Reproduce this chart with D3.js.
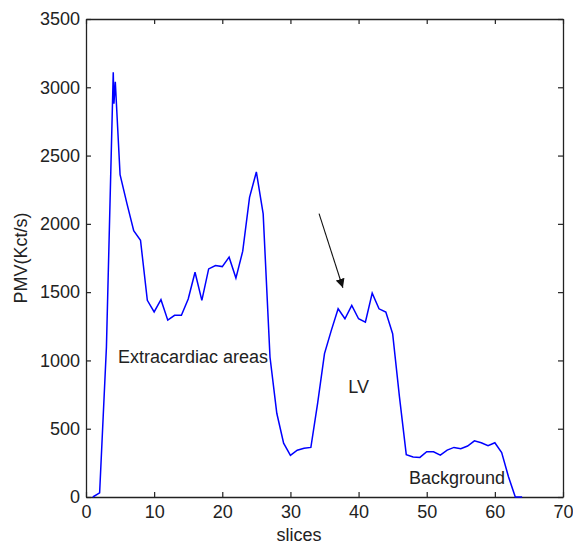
<!DOCTYPE html>
<html>
<head>
<meta charset="utf-8">
<script src="https://cdn.jsdelivr.net/npm/d3@7"></script>
<style>
  body { margin: 0; background: #fff; }
  text { font-family: "Liberation Sans", Arial, sans-serif; fill: #222; }
</style>
</head>
<body>
<div id="chart"></div>
<script>
var slices = [1, 2, 3, 4, 4.1, 4.3, 5, 6, 7, 8, 9, 10, 11, 12, 13, 14, 15, 16, 17, 18, 19, 20,
  21, 22, 23, 24, 25, 26, 27, 28, 29, 30, 31, 32, 33, 34, 35, 36, 37, 38, 39, 40,
  41, 42, 43, 44, 45, 46, 47, 48, 49, 50, 51, 52, 53, 54, 55, 56, 57, 58, 59, 60,
  61, 62, 63, 64];
var pmv = [0, 30, 1100, 3110, 2880, 3040, 2360, 2150, 1950, 1880, 1440, 1355, 1445, 1295, 1330, 1330, 1450, 1646, 1440, 1670, 1695, 1687,
  1756, 1603, 1800, 2194, 2380, 2073, 1025, 613, 394, 305, 343, 357, 363, 690, 1050, 1220, 1378, 1305, 1403, 1305,
  1281, 1493, 1378, 1354, 1196, 733, 310, 293, 290, 331, 331, 307, 343, 363, 353, 373, 411, 397, 375, 397,
  325, 148, 0, 0];

var xTicks = [0, 10, 20, 30, 40, 50, 60, 70];
var yTicks = [0, 500, 1000, 1500, 2000, 2500, 3000, 3500];

// annotations: [label, slice, value]
var notes = [["Extracardiac areas", 4.7, 984], ["LV", 38.5, 762], ["Background", 47.4, 95]];
var arrow = [[34.2, 2075], [37.7, 1532]];

var margin = { top: 19, right: 10, bottom: 48, left: 86 };
var width = 573 - margin.left - margin.right;
var height = 545 - margin.top - margin.bottom;

var svg = d3.select("#chart")
    .append("svg")
    .attr("width", 573)
    .attr("height", 545)
    .append("g")
    .attr("transform", "translate(" + margin.left + "," + margin.top + ")");

var x = d3.scaleLinear().domain([0, 70]).range([0, width]);
var y = d3.scaleLinear().domain([0, 3500]).range([height, 0]);

// axes with inward ticks, box style
function styleAxis(g) {
    g.selectAll("path").attr("stroke", "#222").attr("stroke-width", 1.3);
    g.selectAll("line").attr("stroke", "#222").attr("stroke-width", 1.2);
    g.selectAll("text").style("font-size", "18px").attr("fill", "#222");
}

svg.append("g")
    .attr("transform", "translate(0," + height + ")")
    .call(d3.axisBottom(x).tickValues(xTicks).tickSizeInner(-5).tickSizeOuter(0).tickPadding(8).tickFormat(d3.format("d")))
    .call(styleAxis);

svg.append("g")
    .call(d3.axisTop(x).tickValues(xTicks).tickSizeInner(-5).tickSizeOuter(0).tickFormat(""))
    .call(styleAxis);

svg.append("g")
    .call(d3.axisLeft(y).tickValues(yTicks).tickSizeInner(-5).tickSizeOuter(0).tickPadding(6).tickFormat(d3.format("d")))
    .call(styleAxis);

svg.append("g")
    .attr("transform", "translate(" + width + ",0)")
    .call(d3.axisRight(y).tickValues(yTicks).tickSizeInner(-5).tickSizeOuter(0).tickFormat(""))
    .call(styleAxis);

// labels
svg.append("text")
    .attr("text-anchor", "middle")
    .attr("x", 213)
    .attr("y", height + 44)
    .style("font-size", "18px")
    .text("slices");

svg.append("text")
    .attr("text-anchor", "middle")
    .attr("transform", "rotate(-90)")
    .attr("x", -height / 2)
    .attr("y", -59)
    .style("font-size", "18px")
    .text("PMV(Kct/s)");

// data line
var line = d3.line()
    .x((d, i) => x(slices[i]))
    .y(d => y(d));

svg.append("path")
    .datum(pmv)
    .attr("fill", "none")
    .attr("stroke", "#0000ff")
    .attr("stroke-width", 1.5)
    .attr("d", line);

// annotation texts
svg.selectAll("text.note")
    .data(notes)
    .enter()
    .append("text")
    .attr("class", "note")
    .attr("x", d => x(d[1]))
    .attr("y", d => y(d[2]))
    .style("font-size", "18px")
    .text(d => d[0]);

// arrow
svg.append("defs").append("marker")
    .attr("id", "head")
    .attr("viewBox", "0 0 10 10")
    .attr("refX", 10)
    .attr("refY", 5)
    .attr("markerWidth", 9)
    .attr("markerHeight", 9)
    .attr("markerUnits", "userSpaceOnUse")
    .attr("orient", "auto")
    .append("path")
    .attr("d", "M0,0L10,5L0,10z")
    .attr("fill", "#111");

svg.append("line")
    .attr("x1", x(arrow[0][0]))
    .attr("y1", y(arrow[0][1]))
    .attr("x2", x(arrow[1][0]))
    .attr("y2", y(arrow[1][1]))
    .attr("stroke", "#111")
    .attr("stroke-width", 1.1)
    .attr("marker-end", "url(#head)");
</script>
</body>
</html>
